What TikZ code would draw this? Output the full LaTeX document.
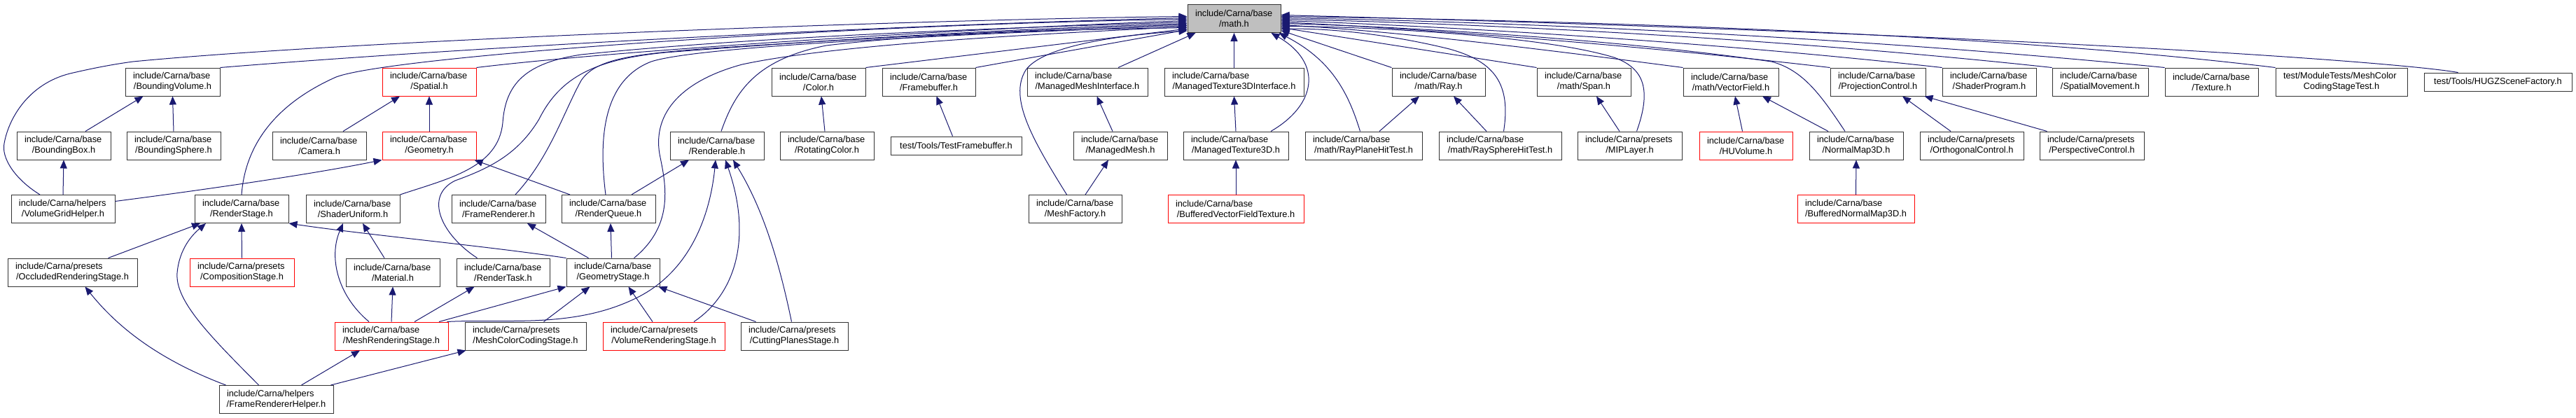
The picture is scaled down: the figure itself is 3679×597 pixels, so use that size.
\documentclass[tikz,border=0pt]{standalone}
\usepackage{fontspec}
\setmainfont{Liberation Sans}
\usetikzlibrary{arrows.meta}
\definecolor{edgeblue}{HTML}{191970}
\definecolor{boxline}{HTML}{333333}
\definecolor{redline}{HTML}{FF0000}
\definecolor{mathfill}{HTML}{BFBFBF}
\tikzset{
  box/.style={draw=boxline, line width=1pt, inner xsep=11pt, inner ysep=0pt,
    minimum height=40pt, font=\fontsize{12.8}{15}\selectfont, align=left, fill=white},
  redbox/.style={draw=redline},
  mathbox/.style={fill=mathfill},
  onebox/.style={minimum height=26pt},
  dep/.style={draw=edgeblue, line width=1pt, -{Triangle[length=12pt,width=10pt]}},
}
\newcommand\nd[6]{\node[box,#1,text width=#4pt-22pt] (#2) at (#3) {\makebox[\linewidth][l]{#5}\\\makebox[\linewidth][c]{#6}};}
\newcommand\ndone[5]{\node[box,onebox,#1,text width=#4pt-22pt] (#2) at (#3) {\makebox[\linewidth][c]{#5}};}
\begin{document}
\begin{tikzpicture}[x=1pt,y=-1pt]
\fill[white] (0,0) rectangle (3679,597);
\useasboundingbox (0,0) rectangle (3679,597);
% row 0
\nd{mathbox}{math}{1762.5,26.5}{133}{include/Carna/base}{/math.h}
% row 1
\nd{}{bvol}{246.5,117}{135}{include/Carna/base}{/BoundingVolume.h}
\nd{redbox}{spatial}{613,117}{134}{include/Carna/base}{/Spatial.h}
\nd{}{color}{1169,117}{134}{include/Carna/base}{/Color.h}
\nd{}{fbuf}{1326.5,117}{133}{include/Carna/base}{/Framebuffer.h}
\nd{}{mmi}{1553,117}{172}{include/Carna/base}{/ManagedMeshInterface.h}
\nd{}{mt3di}{1762.5,117}{199}{include/Carna/base}{/ManagedTexture3DInterface.h}
\nd{}{ray}{2054.5,117}{133}{include/Carna/base}{/math/Ray.h}
\nd{}{span}{2262,117}{134}{include/Carna/base}{/math/Span.h}
\nd{}{vfield}{2472,117}{136}{include/Carna/base}{/math/VectorField.h}
\nd{}{projc}{2682,117}{136}{include/Carna/base}{/ProjectionControl.h}
\nd{}{shprog}{2841,117}{134}{include/Carna/base}{/ShaderProgram.h}
\nd{}{smove}{2999.5,117}{137}{include/Carna/base}{/SpatialMovement.h}
\nd{}{texture}{3158.5,117}{133}{include/Carna/base}{/Texture.h}
\nd{}{mccst}{3344,117}{188}{test/ModuleTests/MeshColor}{CodingStageTest.h}
\ndone{}{hugz}{3567.5,117}{211}{test/Tools/HUGZSceneFactory.h}
% row 2
\nd{}{bbox}{91,208}{134}{include/Carna/base}{/BoundingBox.h}
\nd{}{bsphere}{248,208}{134}{include/Carna/base}{/BoundingSphere.h}
\nd{}{camera}{456,208}{134}{include/Carna/base}{/Camera.h}
\nd{redbox}{geometry}{613,208}{134}{include/Carna/base}{/Geometry.h}
\nd{}{renderable}{1024,208}{134}{include/Carna/base}{/Renderable.h}
\nd{}{rotcolor}{1181,208}{134}{include/Carna/base}{/RotatingColor.h}
\ndone{}{testfb}{1365.5,208}{187}{test/Tools/TestFramebuffer.h}
\nd{}{mmesh}{1600,208}{134}{include/Carna/base}{/ManagedMesh.h}
\nd{}{mt3d}{1765,208}{150}{include/Carna/base}{/ManagedTexture3D.h}
\nd{}{rphit}{1947.5,208}{167}{include/Carna/base}{/math/RayPlaneHitTest.h}
\nd{}{rshit}{2142.5,208}{175}{include/Carna/base}{/math/RaySphereHitTest.h}
\nd{}{mip}{2327.5,208}{149}{include/Carna/presets}{/MIPLayer.h}
\nd{redbox}{huvol}{2493.5,208}{133}{include/Carna/base}{/HUVolume.h}
\nd{}{nmap}{2651,208}{134}{include/Carna/base}{/NormalMap3D.h}
\nd{}{orthc}{2816,208}{148}{include/Carna/presets}{/OrthogonalControl.h}
\nd{}{perspc}{2987.5,208}{149}{include/Carna/presets}{/PerspectiveControl.h}
% row 3
\nd{}{vgh}{90,298.5}{148}{include/Carna/helpers}{/VolumeGridHelper.h}
\nd{}{rstage}{345,298.5}{134}{include/Carna/base}{/RenderStage.h}
\nd{}{suni}{504,298.5}{134}{include/Carna/base}{/ShaderUniform.h}
\nd{}{frend}{712,298.5}{134}{include/Carna/base}{/FrameRenderer.h}
\nd{}{rqueue}{869,298.5}{134}{include/Carna/base}{/RenderQueue.h}
\nd{}{mfact}{1535.5,298.5}{133}{include/Carna/base}{/MeshFactory.h}
\nd{redbox}{bvft}{1765,298.5}{194}{include/Carna/base}{/BufferedVectorFieldTexture.h}
\nd{redbox}{bnmap}{2650.5,298.5}{167}{include/Carna/base}{/BufferedNormalMap3D.h}
% row 4
\nd{}{occl}{103.5,389}{185}{include/Carna/presets}{/OccludedRenderingStage.h}
\nd{redbox}{comp}{345.5,389}{149}{include/Carna/presets}{/CompositionStage.h}
\nd{}{material}{561,389}{134}{include/Carna/base}{/Material.h}
\nd{}{rtask}{718.5,389}{133}{include/Carna/base}{/RenderTask.h}
\nd{}{gstage}{875.5,389}{133}{include/Carna/base}{/GeometryStage.h}
% row 5
\nd{redbox}{mrs}{559,480}{162}{include/Carna/base}{/MeshRenderingStage.h}
\nd{}{mccs}{750.5,480}{173}{include/Carna/presets}{/MeshColorCodingStage.h}
\nd{redbox}{vrs}{948,480}{174}{include/Carna/presets}{/VolumeRenderingStage.h}
\nd{}{cps}{1134.5,480}{153}{include/Carna/presets}{/CuttingPlanesStage.h}
% row 6
\nd{}{frh}{394.5,570.5}{163}{include/Carna/helpers}{/FrameRendererHelper.h}

% ---- edges into math.h, left side
\draw[dep] ([xshift=-33pt]vgh.north) .. controls (20,255) and (2,225) .. (6,205) .. controls (12,170) and (40,120) .. (100,105) .. controls (130,98) and (160,92) .. (190,88) .. controls (500,58) and (1300,28) .. ([yshift=3pt]math.west);
\draw[dep] (bvol.north east) .. controls (700,65) and (1300,35) .. ([yshift=1pt]math.west);
\draw[dep] (rstage.north) .. controls (350,210) and (390,150) .. (480,110) .. controls (560,80) and (1200,35) .. ([yshift=-1pt]math.west);
\draw[dep] (spatial.north east) .. controls (900,70) and (1400,40) .. ([yshift=-3pt]math.west);
\draw[dep] (suni.north east) .. controls (640,255) and (712,240) .. (718,175) .. controls (722,120) and (750,90) .. (830,78) .. controls (1100,50) and (1500,38) .. ([yshift=-5pt]math.west);
\draw[dep] ([xshift=-37pt]rtask.north) .. controls (630,335) and (605,280) .. (650,258) .. controls (700,240) and (740,220) .. (770,170) .. controls (800,110) and (850,85) .. (950,75) .. controls (1300,48) and (1500,40) .. ([yshift=-7pt]math.west);
\draw[dep] ([xshift=24pt]frend.north) .. controls (785,225) and (805,160) .. (830,115) .. controls (850,85) and (900,78) .. (1000,70) .. controls (1300,50) and (1500,42) .. ([yshift=-8.5pt]math.west);
\draw[dep] ([xshift=-4pt]rqueue.north) .. controls (855,200) and (860,115) .. (930,88) .. controls (1000,65) and (1400,48) .. ([yshift=-10pt]math.west);
\draw[dep] ([xshift=30pt]gstage.north) .. controls (965,320) and (950,260) .. (942,220) .. controls (932,160) and (975,115) .. (1060,92) .. controls (1200,62) and (1500,48) .. ([yshift=-11.5pt]math.west);
\draw[dep] ([xshift=6pt]renderable.north) .. controls (1050,130) and (1080,85) .. (1180,65) .. controls (1350,45) and (1550,42) .. ([yshift=-13pt]math.west);
\draw[dep] (color.north east) -- ([yshift=-14.5pt]math.west);
\draw[dep] (fbuf.north east) -- ([yshift=-16pt]math.west);
\draw[dep] ([xshift=-12pt]mfact.north) .. controls (1475,200) and (1440,140) .. (1465,100) .. controls (1490,65) and (1600,50) .. ([yshift=-17.5pt]math.west);
\draw[dep] ([xshift=44pt]mmi.north) -- ([xshift=-55pt]math.south);
\draw[dep] (mt3di.north) -- (math.south);
\draw[dep] ([xshift=50pt]mt3d.north) .. controls (1880,150) and (1890,90) .. ([xshift=-14pt]math.south east);
% ---- edges into math.h, right side
\draw[dep] ([xshift=-5pt]rphit.north) .. controls (1925,130) and (1900,85) .. ([xshift=-3pt]math.south east);
\draw[dep] (ray.north west) -- ([yshift=-17pt]math.east);
\draw[dep] ([xshift=5pt]rshit.north) .. controls (2158,120) and (2135,88) .. (2070,70) .. controls (1990,50) and (1900,40) .. ([yshift=-15pt]math.east);
\draw[dep] (span.north west) -- ([yshift=-13pt]math.east);
\draw[dep] ([xshift=10pt]mip.north) .. controls (2358,130) and (2350,98) .. (2305,82) .. controls (2200,50) and (1950,38) .. ([yshift=-11pt]math.east);
\draw[dep] (vfield.north west) .. controls (2200,70) and (2000,45) .. ([yshift=-9pt]math.east);
\draw[dep] ([xshift=-16pt]nmap.north) .. controls (2600,135) and (2575,100) .. (2530,88) .. controls (2300,55) and (2000,38) .. ([yshift=-7pt]math.east);
\draw[dep] (projc.north west) .. controls (2300,60) and (2000,40) .. ([yshift=-5pt]math.east);
\draw[dep] (shprog.north west) .. controls (2400,55) and (2000,35) .. ([yshift=-3pt]math.east);
\draw[dep] (smove.north west) .. controls (2500,50) and (2050,32) .. ([yshift=-1pt]math.east);
\draw[dep] (texture.north west) .. controls (2600,48) and (2100,30) .. ([yshift=1pt]math.east);
\draw[dep] (mccst.north west) .. controls (2800,42) and (2150,28) .. ([yshift=3pt]math.east);
\draw[dep] ([xshift=-57pt]hugz.north) .. controls (3420,88) and (2900,50) .. ([yshift=5pt]math.east);
% ---- other edges
\draw[dep] ([xshift=31pt]bbox.north) -- ([xshift=-42pt]bvol.south);
\draw[dep] (bsphere.north) -- (bvol.south);
\draw[dep] (vgh.north) -- (bbox.south);
\draw[dep] ([yshift=11pt]vgh.east) .. controls (300,270) and (450,248) .. (geometry.south west);
\draw[dep] ([xshift=34pt]camera.north) -- ([xshift=-42pt]spatial.south);
\draw[dep] (geometry.north) -- (spatial.south);
\draw[dep] ([xshift=-55pt]rqueue.north) -- ([xshift=-3pt]geometry.south east);
\draw[dep] ([xshift=33pt]rqueue.north) -- ([xshift=-40pt]renderable.south);
\draw[dep] ([xshift=-2pt]gstage.north) -- ([xshift=3pt]rqueue.south);
\draw[dep] ([xshift=-35pt]gstage.north) -- ([xshift=41pt]frend.south);
\draw[dep] (gstage.north west) .. controls (700,352) and (520,335) .. (rstage.south east);
\draw[dep] ([xshift=51pt]occl.north) -- ([xshift=-59pt]rstage.south);
\draw[dep] (comp.north) -- (rstage.south);
\draw[dep] ([xshift=-25pt]frh.north) .. controls (300,480) and (250,430) .. (253,390) .. controls (256,355) and (275,335) .. ([xshift=-51pt]rstage.south);
\draw[dep] ([xshift=-72pt]frh.north) .. controls (230,515) and (170,470) .. ([xshift=18pt]occl.south);
\draw[dep] ([xshift=36pt]frh.north) -- ([xshift=-45pt]mrs.south);
\draw[dep] ([xshift=78pt]frh.north) -- ([xshift=2pt]mccs.south west);
\draw[dep] ([xshift=-32pt]mrs.north) .. controls (480,420) and (470,365) .. ([xshift=-14pt]suni.south);
\draw[dep] ([xshift=-12pt]material.north) -- ([xshift=14pt]suni.south);
\draw[dep] (mrs.north) -- (material.south);
\draw[dep] ([xshift=33pt]mrs.north) -- ([xshift=-41pt]rtask.south);
\draw[dep] ([xshift=68pt]mrs.north) -- (gstage.south west);
\draw[dep] ([xshift=-2pt]mrs.north east) .. controls (720,455) and (820,470) .. (910,425) .. controls (990,385) and (1015,300) .. ([xshift=-2pt]renderable.south);
\draw[dep] ([xshift=26pt]mccs.north) -- ([xshift=-33pt]gstage.south);
\draw[dep] ([xshift=-16pt]vrs.north) -- ([xshift=22pt]gstage.south);
\draw[dep] ([xshift=-55pt]cps.north) -- ([xshift=-2pt]gstage.south east);
\draw[dep] ([xshift=43pt]vrs.north) .. controls (1050,420) and (1075,340) .. ([xshift=12pt]renderable.south);
\draw[dep] ([xshift=-4pt]cps.north) .. controls (1110,360) and (1085,290) .. ([xshift=23pt]renderable.south);
\draw[dep] ([xshift=-3pt]rotcolor.north) -- ([xshift=4pt]color.south);
\draw[dep] ([xshift=-5pt]testfb.north) -- ([xshift=11pt]fbuf.south);
\draw[dep] ([xshift=-11pt]mmesh.north) -- ([xshift=13.5pt]mmi.south);
\draw[dep] ([xshift=14.5pt]mfact.north) -- ([xshift=-17pt]mmesh.south);
\draw[dep] (mt3d.north) -- (mt3di.south);
\draw[dep] (bvft.north) -- (mt3d.south);
\draw[dep] ([xshift=22.5pt]rphit.north) -- ([xshift=-27.5pt]ray.south);
\draw[dep] ([xshift=-19.5pt]rshit.north) -- ([xshift=21.5pt]ray.south);
\draw[dep] ([xshift=-14.5pt]mip.north) -- ([xshift=18pt]span.south);
\draw[dep] ([xshift=-5pt]huvol.north) -- ([xshift=6pt]vfield.south);
\draw[dep] ([xshift=-40pt]nmap.north) -- ([xshift=45pt]vfield.south);
\draw[dep] (bnmap.north) -- (nmap.south);
\draw[dep] ([xshift=-30pt]orthc.north) -- ([xshift=35pt]projc.south);
\draw[dep] ([xshift=-64pt]perspc.north) -- ([xshift=-2pt]projc.south east);
\end{tikzpicture}
\end{document}
